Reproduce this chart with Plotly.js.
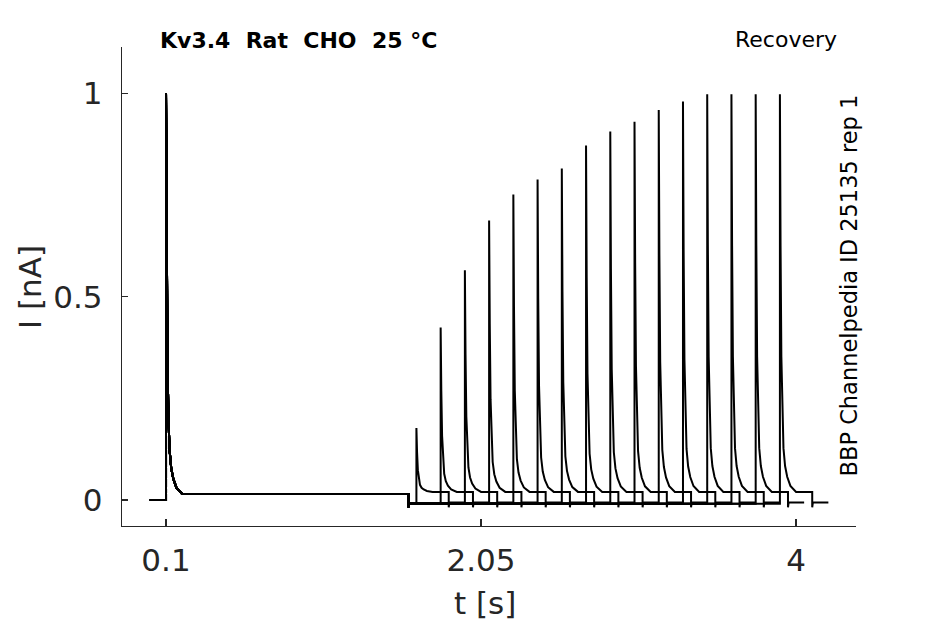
<!DOCTYPE html>
<html>
<head>
<meta charset="utf-8">
<script src="https://cdn.plot.ly/plotly-3.0.1.min.js"></script>
<style>html,body{margin:0;padding:0;background:#fff;}#chart{width:945px;height:624px;}</style>
</head>
<body>
<div id="chart"></div>
<script>
// ---- data ----
const sweepStart = 0.0;          // s
const condPulseTime = 0.1;       // s, conditioning pulse onset
const condPulseEnd = 1.6;        // s, end of conditioning pulse
const condPeak = 1.0;            // nA (normalised)
const condPlateau = 0.015;       // nA, sustained level during conditioning pulse
const restLevel = -0.009;        // nA, level during recovery interval
const tailTick = -0.018;         // nA, small negative transient at steps
const testPulseTimes = [1.65, 1.80, 1.95, 2.10, 2.25, 2.40, 2.55, 2.70, 2.85, 3.00, 3.15, 3.30, 3.45, 3.60, 3.75, 3.90];
const testPeaks = [0.177, 0.424, 0.565, 0.687, 0.751, 0.788, 0.815, 0.872, 0.906, 0.930, 0.959, 0.980, 0.998, 0.998, 0.998, 0.998];
const testPlateau = 0.02;        // nA, sustained level during test pulse
const testDuration = 0.2;        // s
const afterLevel = -0.006;       // nA, level after test pulse
const afterDuration = 0.1;       // s, recording after test pulse
// decay of a peak toward its plateau (time after onset, remaining fraction), read from the first pulse
const decayOffsets = [0, 0.004, 0.009, 0.015, 0.022, 0.032, 0.045, 0.065, 0.1];
const decayFraction = [1, 0.62, 0.34, 0.19, 0.11, 0.065, 0.038, 0.015, 0];
// tick labels
const xTickVals = [0.1, 2.05, 4];
const xTickText = ['0.1', '2.05', '4'];
const yTickVals = [0, 0.5, 1];
const yTickText = ['0', '0.5', '1'];

function pulse(t0, peak, plateau, xs, ys) {
  for (let i = 0; i < decayOffsets.length; i++) {
    xs.push(t0 + decayOffsets[i]);
    ys.push(plateau + (peak - plateau) * decayFraction[i]);
  }
}

const traces = testPulseTimes.map((T, k) => {
  const x = [], y = [];
  x.push(sweepStart); y.push(0);
  x.push(condPulseTime); y.push(0);
  pulse(condPulseTime, condPeak, condPlateau, x, y);
  x.push(condPulseEnd); y.push(condPlateau);
  x.push(condPulseEnd); y.push(tailTick);
  x.push(condPulseEnd + 0.004); y.push(restLevel);
  x.push(T); y.push(restLevel);
  pulse(T, testPeaks[k], testPlateau, x, y);
  x.push(T + testDuration); y.push(testPlateau);
  x.push(T + testDuration); y.push(tailTick);
  x.push(T + testDuration + 0.004); y.push(afterLevel);
  x.push(T + testDuration + afterDuration); y.push(afterLevel);
  return {x: x, y: y, type: 'scatter', mode: 'lines',
          line: {color: '#000000', width: 2}, hoverinfo: 'skip', showlegend: false};
});

const axisColor = '#262626';
const tickFont = {family: 'DejaVu Sans', size: 31, color: axisColor};

const layout = {
  width: 945, height: 624, autosize: false,
  margin: {l: 122, r: 89, t: 47, b: 98, pad: 0},
  paper_bgcolor: '#ffffff', plot_bgcolor: '#ffffff',
  showlegend: false,
  xaxis: {
    range: [-0.1724, 4.371], showgrid: false, zeroline: false,
    showline: true, linecolor: axisColor, linewidth: 1.2,
    ticks: 'inside', ticklen: 7, tickwidth: 1.2, tickcolor: axisColor,
    tickmode: 'array', tickvals: xTickVals, ticktext: xTickText,
    tickfont: tickFont, ticklabelstandoff: 7
  },
  yaxis: {
    range: [-0.0639, 1.1139], showgrid: false, zeroline: false,
    showline: true, linecolor: axisColor, linewidth: 1.2,
    ticks: 'inside', ticklen: 6, tickwidth: 1.2, tickcolor: axisColor,
    tickmode: 'array', tickvals: yTickVals, ticktext: yTickText,
    tickfont: tickFont, ticklabelstandoff: 12
  },
  annotations: [
    {text: '<b>Kv3.4\u00a0\u00a0Rat\u00a0\u00a0CHO\u00a0\u00a025\u00a0°C</b>', xref: 'paper', yref: 'paper',
     x: 0.0490, y: 1.0146, xanchor: 'left', yanchor: 'middle', showarrow: false,
     font: {family: 'DejaVu Sans', size: 22, color: '#000000'}},
    {text: 'Recovery', xref: 'paper', yref: 'paper',
     x: 0.9775, y: 1.0167, xanchor: 'right', yanchor: 'middle', showarrow: false,
     font: {family: 'DejaVu Sans', size: 22, color: '#000000'}},
    {text: 'BBP Channelpedia ID 25135 rep 1', xref: 'paper', yref: 'paper',
     x: 0.991, y: 0.503, xanchor: 'center', yanchor: 'middle', textangle: -90, showarrow: false,
     font: {family: 'DejaVu Sans', size: 22.5, color: '#000000'}},
    {text: 't [s]', xref: 'paper', yref: 'paper',
     x: 0.4946, y: -0.1608, xanchor: 'center', yanchor: 'middle', showarrow: false,
     font: {family: 'DejaVu Sans', size: 31, color: axisColor}},
    {text: 'I [nA]', xref: 'paper', yref: 'paper',
     x: -0.1253, y: 0.499, xanchor: 'center', yanchor: 'middle', textangle: -90, showarrow: false,
     font: {family: 'DejaVu Sans', size: 31, color: axisColor}}
  ]
};

Plotly.newPlot('chart', traces, layout, {staticPlot: true, displayModeBar: false});
</script>
</body>
</html>
